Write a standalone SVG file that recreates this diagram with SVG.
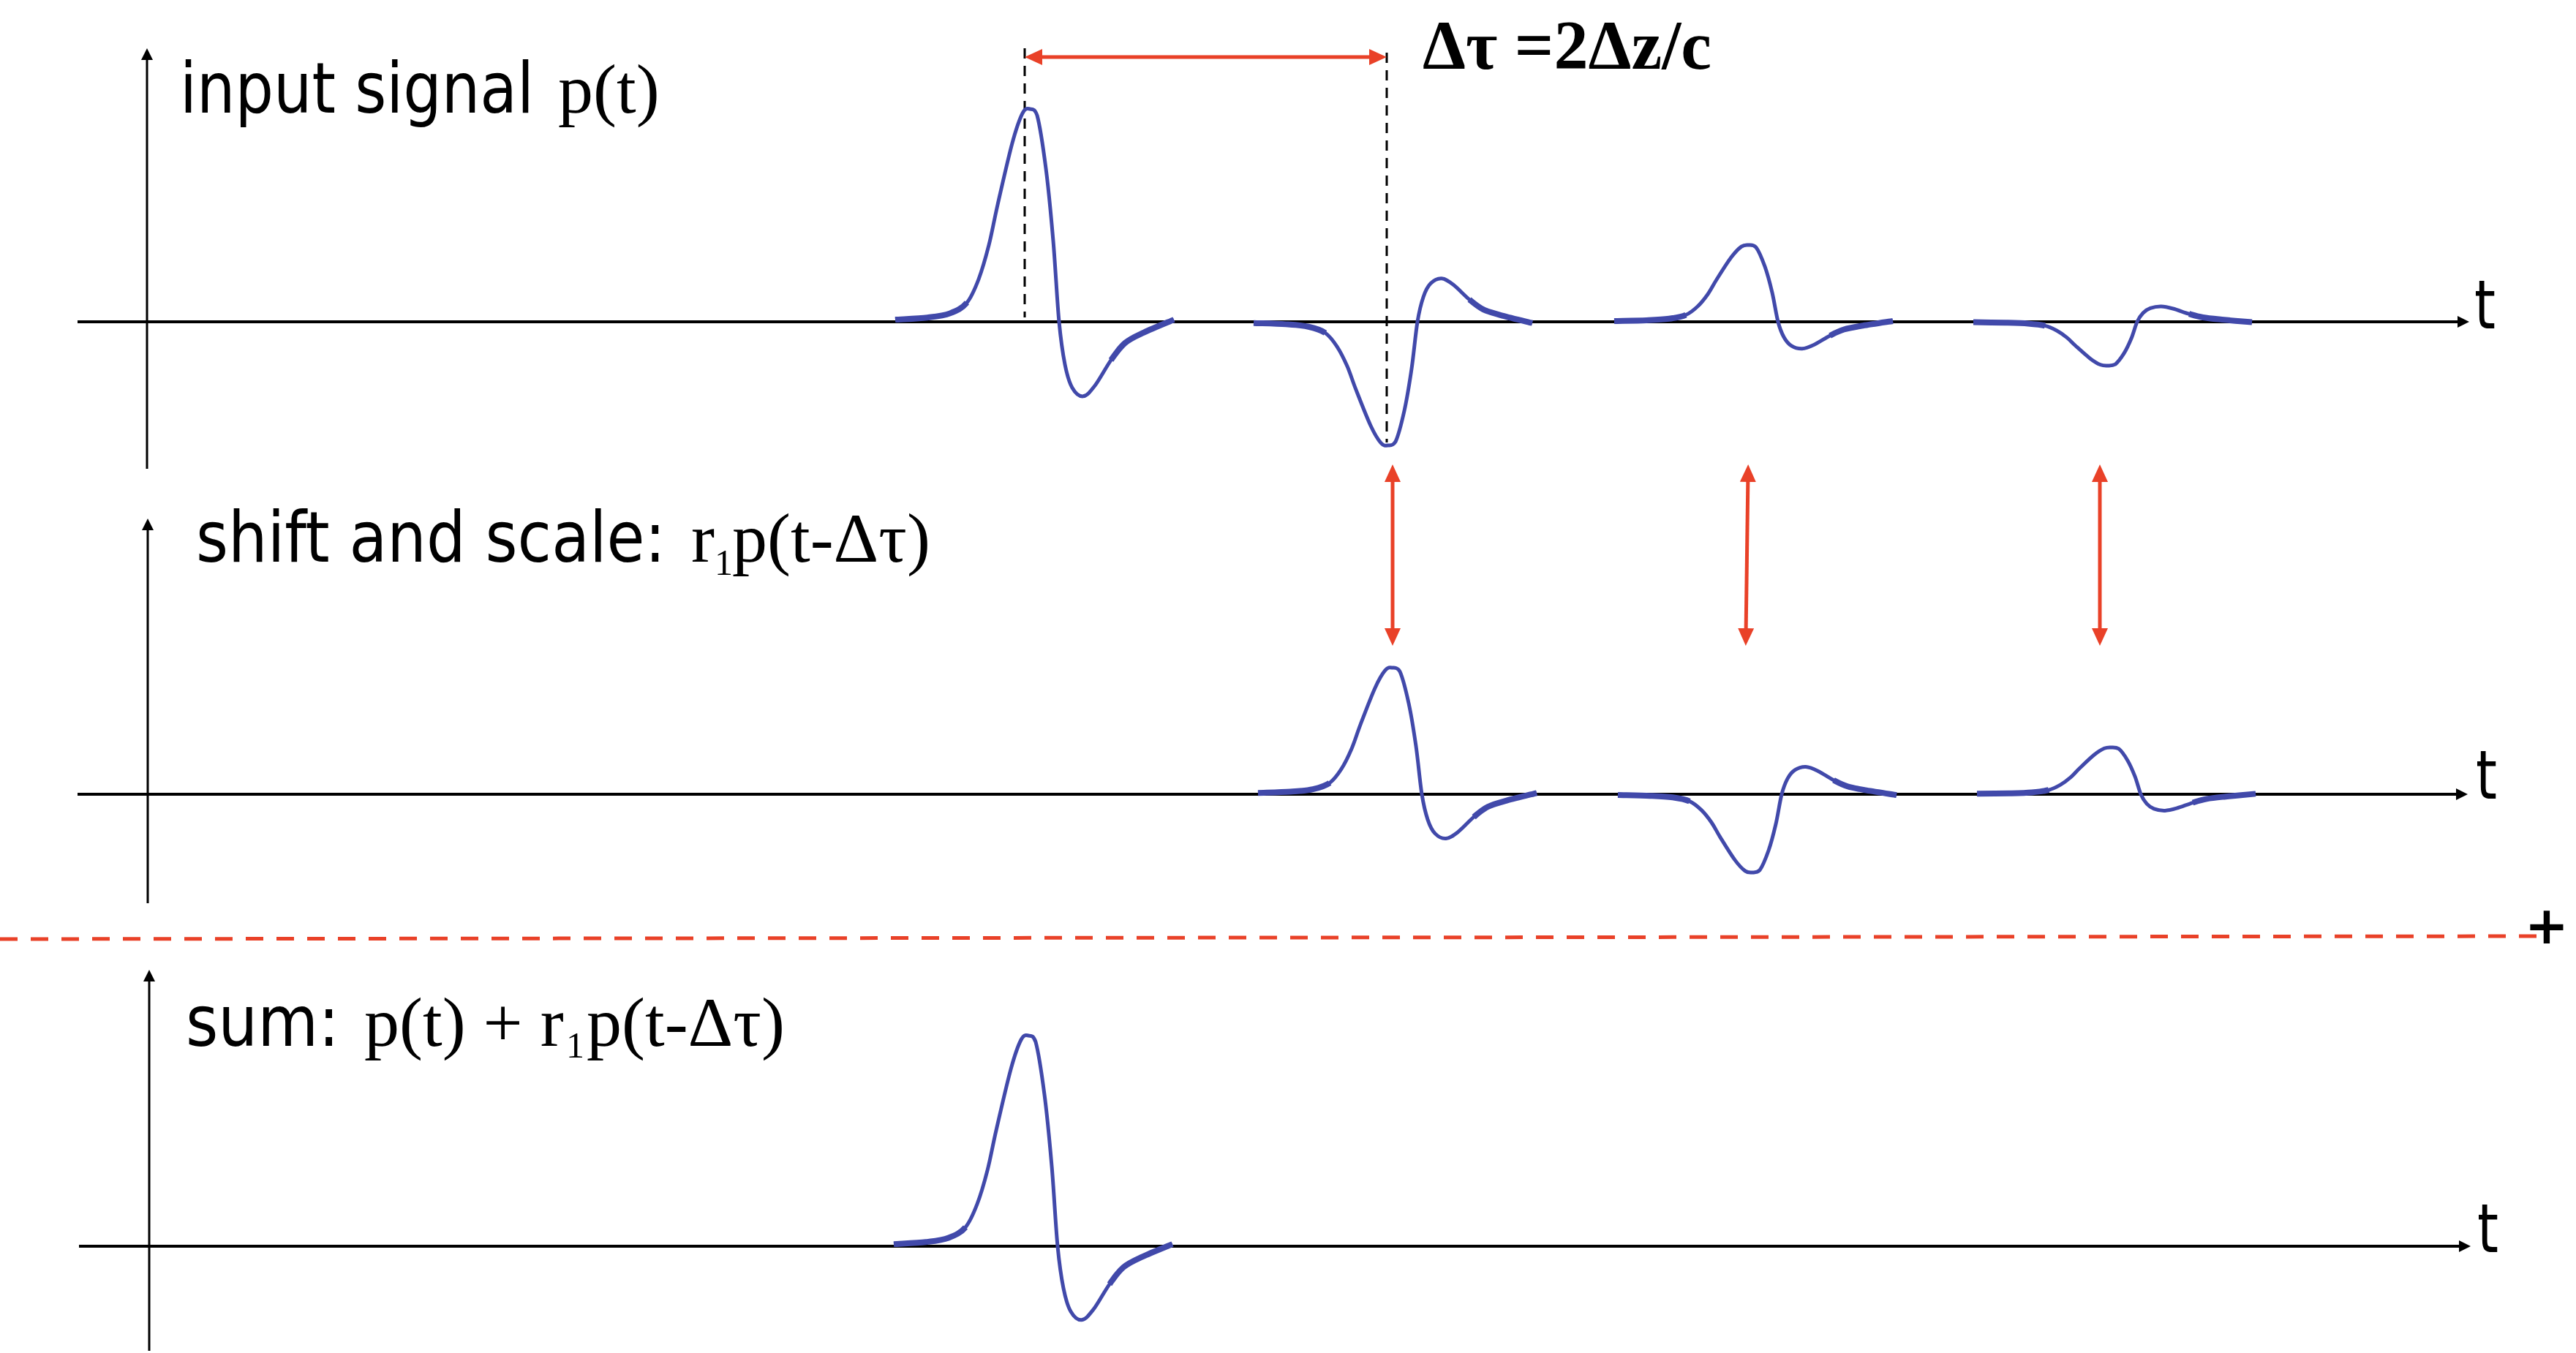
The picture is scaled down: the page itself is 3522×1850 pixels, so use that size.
<svg xmlns="http://www.w3.org/2000/svg" xmlns:xlink="http://www.w3.org/1999/xlink" width="3522" height="1850" viewBox="0 0 3522 1850">
<style>
.sans{font-family:"DejaVu Sans",Verdana,sans-serif;font-size:96px;fill:#000}
.serif{font-family:"Liberation Serif","Times New Roman",serif;font-size:96px;fill:#000}
.sub{font-family:"Liberation Serif","Times New Roman",serif;font-size:50px;fill:#000}
.tl{font-family:"DejaVu Sans",Verdana,sans-serif;font-size:92px;fill:#000}
.axis{stroke:#000;stroke-width:4;fill:none}
.yaxis{stroke:#000;stroke-width:3;fill:none}
.guide{stroke:#000;stroke-width:3;stroke-dasharray:14 10;fill:none}
.red{stroke:#E94128;stroke-width:5;fill:none}
.wave{stroke:#4149AA;stroke-width:5;fill:none;vector-effect:non-scaling-stroke;stroke-linejoin:round;stroke-linecap:butt}
.tail{stroke:#4149AA;stroke-width:8;fill:none;vector-effect:non-scaling-stroke;stroke-linecap:butt}
</style>
<defs>
<marker id="ax" markerUnits="userSpaceOnUse" markerWidth="18" markerHeight="16" refX="6" refY="8" orient="auto"><path d="M0,0 L16,8 L0,16 z" fill="#000"/></marker>
<marker id="ra" markerUnits="userSpaceOnUse" markerWidth="26" markerHeight="24" refX="12" refY="11" orient="auto-start-reverse"><path d="M0,0 L24,11 L0,22 z" fill="#E94128"/></marker>
<g id="pulse">
<path class="wave" d="M-184,-1 C-176.7,-1.2 -152.5,-1.5 -140,-2 C-127.5,-2.5 -118,-2.8 -109,-4 C-100,-5.2 -92.5,-6.3 -86,-9 C-79.5,-11.7 -75,-15.5 -70,-20 C-65,-24.5 -60.3,-30.2 -56,-36 C-51.7,-41.8 -49.3,-47 -44,-55 C-38.7,-63 -29.7,-76.8 -24,-84 C-18.3,-91.2 -14,-95.3 -10,-98 C-6,-100.7 -3.3,-100.2 0,-100 C3.3,-99.8 6.3,-100.5 10,-97 C13.7,-92.3 18.3,-81.8 22,-72 C25.7,-62.2 29,-50 32,-38 C35,-26 37.3,-9.7 40,0 C42.7,9.7 45,14.8 48,20 C51,25.2 53.8,28.5 58,31 C62.2,33.5 67.8,35.2 73,35 C78.2,34.8 82.7,32.8 89,30 C95.3,27.2 104.2,21.3 111,18 C117.8,14.7 122.5,12.2 130,10 C137.5,7.8 144.8,6.8 156,5 C167.2,3.2 190.2,0 197,-1"/>
<path class="tail" d="M-184,-1 C-176.7,-1.2 -152.5,-1.5 -140,-2 C-127.5,-2.5 -118,-2.8 -109,-4 C-100,-5.2 -92.5,-6.3 -86,-9"/>
<path class="tail" d="M111,18 C117.8,14.7 122.5,12.2 130,10 C137.5,7.8 144.8,6.8 156,5 C167.2,3.2 190.2,0 197,-1"/>
</g>
</defs>
<rect width="3522" height="1850" fill="#fff"/>

<g id="panel-input">
<line class="axis" x1="106" y1="440" x2="3366" y2="440" marker-end="url(#ax)"/>
<line class="yaxis" x1="201" y1="641" x2="201" y2="76" marker-end="url(#ax)"/>
<text class="sans" x="246" y="154" textLength="484" lengthAdjust="spacingAndGlyphs">input signal</text>
<text class="serif" x="763" y="154">p(t)</text>
<text class="tl" x="3383" y="449" textLength="29" lengthAdjust="spacingAndGlyphs">t</text>
<line class="guide" x1="1401" y1="66" x2="1401" y2="434"/>
<line class="guide" x1="1896" y1="72" x2="1896" y2="605"/>
<use xlink:href="#pulse" transform="translate(1408,440) scale(1,2.91)"/>
<use xlink:href="#pulse" transform="translate(1898,440) scale(1,-1.69)"/>
<use xlink:href="#pulse" transform="translate(2391,440) scale(1,1.05)"/>
<use xlink:href="#pulse" transform="translate(2882,440) scale(1,-0.60)"/>
<text class="serif" font-weight="bold" x="1945" y="94" textLength="395" lengthAdjust="spacingAndGlyphs">Δτ =2Δz/c</text>
</g>

<g id="panel-shift">
<line class="axis" x1="106" y1="1086" x2="3364" y2="1086" marker-end="url(#ax)"/>
<line class="yaxis" x1="202" y1="1235" x2="202" y2="719" marker-end="url(#ax)"/>
<text class="sans" x="268" y="768" textLength="642" lengthAdjust="spacingAndGlyphs">shift and scale:</text>
<text class="serif" x="945" y="768">r</text>
<text class="sub" x="977" y="786">1</text>
<text class="serif" x="1001" y="768">p(t-Δτ)</text>
<text class="tl" x="3385" y="1092" textLength="29" lengthAdjust="spacingAndGlyphs">t</text>
<use xlink:href="#pulse" transform="translate(1904,1086) scale(1,1.73)"/>
<use xlink:href="#pulse" transform="translate(2396,1086) scale(1,-1.07)"/>
<use xlink:href="#pulse" transform="translate(2887,1086) scale(1,0.64)"/>
</g>

<g id="separator">
<line x1="0" y1="1284" x2="3469" y2="1280" stroke="#E94128" stroke-width="5" stroke-dasharray="24 18"/>
<text x="3482" y="1290" text-anchor="middle" font-family="DejaVu Sans,sans-serif" font-weight="bold" font-size="72">+</text>
</g>

<g id="panel-sum">
<line class="axis" x1="108" y1="1704" x2="3368" y2="1704" marker-end="url(#ax)"/>
<line class="yaxis" x1="204" y1="1847" x2="204" y2="1336" marker-end="url(#ax)"/>
<text class="sans" x="254" y="1430" textLength="210" lengthAdjust="spacingAndGlyphs">sum:</text>
<text class="serif" x="498" y="1430">p(t) + r</text>
<text class="sub" x="774" y="1446">1</text>
<text class="serif" x="802" y="1430">p(t-Δτ)</text>
<text class="tl" x="3387" y="1712" textLength="29" lengthAdjust="spacingAndGlyphs">t</text>
<use xlink:href="#pulse" transform="translate(1406,1704) scale(1,2.88)"/>
</g>

<g id="connectors">
<line class="red" stroke-width="6" x1="1413" y1="78" x2="1884" y2="78" marker-start="url(#ra)" marker-end="url(#ra)"/>
<line class="red" x1="1904" y1="647" x2="1904" y2="871" marker-start="url(#ra)" marker-end="url(#ra)"/>
<line class="red" x1="2390" y1="647" x2="2387" y2="871" marker-start="url(#ra)" marker-end="url(#ra)"/>
<line class="red" x1="2871" y1="647" x2="2871" y2="871" marker-start="url(#ra)" marker-end="url(#ra)"/>
</g>
</svg>
